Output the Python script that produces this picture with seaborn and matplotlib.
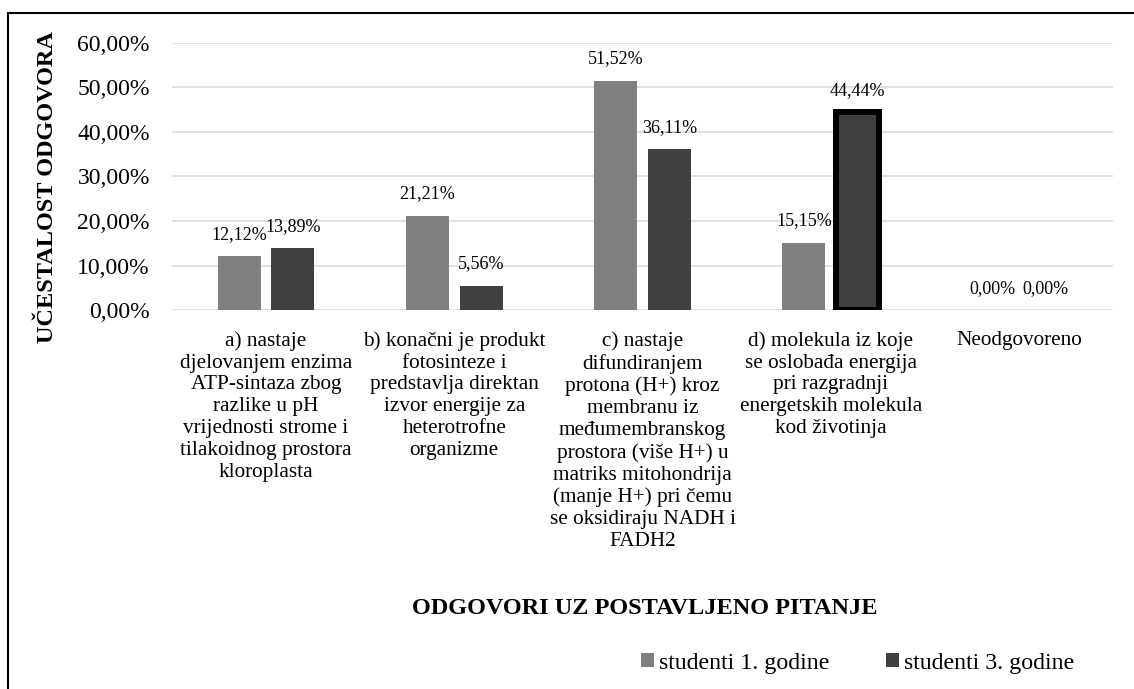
import matplotlib
matplotlib.use("Agg")
import matplotlib.pyplot as plt
import seaborn as sns
import pandas as pd
from matplotlib.patches import Patch, Rectangle
from matplotlib.ticker import FuncFormatter

categories = ["a", "b", "c", "d", "e"]
category_labels = [
    "a) nastaje\ndjelovanjem enzima\nATP-sintaza zbog\nrazlike u pH\nvrijednosti strome i\ntilakoidnog prostora\nkloroplasta",
    "b) konačni je produkt\nfotosinteze i\npredstavlja direktan\nizvor energije za\nheterotrofne\norganizme",
    "c) nastaje\ndifundiranjem\nprotona (H+) kroz\nmembranu iz\nmeđumembranskog\nprostora (više H+) u\nmatriks mitohondrija\n(manje H+) pri čemu\nse oksidiraju NADH i\nFADH2",
    "d) molekula iz koje\nse oslobađa energija\npri razgradnji\nenergetskih molekula\nkod životinja",
    "Neodgovoreno",
]
series_names = ["studenti 1. godine", "studenti 3. godine"]
studenti_1 = [0.1212, 0.2121, 0.5152, 0.1515, 0.0]
studenti_3 = [0.1389, 0.0556, 0.3611, 0.4444, 0.0]
yticks = [0.0, 0.1, 0.2, 0.3, 0.4, 0.5, 0.6]

colors = {"studenti 1. godine": "#7f7f7f", "studenti 3. godine": "#404040"}

df = pd.DataFrame({
    "cat": categories * 2,
    "grp": [series_names[0]] * 5 + [series_names[1]] * 5,
    "val": studenti_1 + studenti_3,
})

sns.set_style("white")
plt.rcParams["font.family"] = ["Liberation Serif", "DejaVu Serif"]
plt.rcParams["text.color"] = "black"
plt.rcParams["axes.labelcolor"] = "black"
plt.rcParams["xtick.color"] = "black"
plt.rcParams["ytick.color"] = "black"

W, H = 1134, 689
fig = plt.figure(figsize=(W / 100, H / 100), dpi=100)
ax = fig.add_axes([172 / W, 1 - 310.3 / H, (1113 - 172) / W, (310.3 - 42.7) / H])

sns.barplot(data=df, x="cat", y="val", hue="grp", palette=colors,
            width=0.57, gap=0.2, ax=ax, legend=False, saturation=1,
            linewidth=0)

ax.set_ylim(0, 0.6)
ax.set_xlim(-0.5, 4.5)
ax.set_yticks(yticks)
ax.yaxis.set_major_formatter(FuncFormatter(lambda v, p: f"{v*100:.2f}%".replace(".", ",")))
ax.grid(axis="y", color="#d9d9d9", linewidth=1.1)
ax.set_axisbelow(True)
for s in ax.spines.values():
    s.set_visible(False)
ax.tick_params(axis="y", length=0, pad=16, labelsize=17, labelcolor="black")
ax.set_xticks(range(5))
ax.set_xticklabels(category_labels, fontsize=15.3, linespacing=1.2, va="top",
                   color="black")
ax.tick_params(axis="x", length=0, pad=15, labelcolor="black")
ax.set_xlabel("")
ax.set_ylabel("")

# highlight bar (studenti 3. godine, d)
hl = ax.containers[1][3]
hl.set_edgecolor("black")
hl.set_linewidth(4.3)

for cont, vals in zip(ax.containers, [studenti_1, studenti_3]):
    ax.bar_label(cont, labels=[f"{v*100:.2f}%".replace(".", ",") for v in vals],
                 padding=9.5, fontsize=13, color="black")

fig.text(48 / W, 1 - 187 / H, "UČESTALOST ODGOVORA", rotation=90, ha="center",
         va="center", fontsize=17.5, fontweight="bold", color="black")
fig.text(645 / W, 1 - 608 / H, "ODGOVORI UZ POSTAVLJENO PITANJE", ha="center",
         va="center", fontsize=17.5, fontweight="bold", color="black")

handles = [Patch(facecolor=colors[n], edgecolor="none", label=n) for n in series_names]
leg = fig.legend(handles=handles, loc="center", bbox_to_anchor=(857.5 / W, 1 - 663 / H),
                 ncol=2, frameon=False, fontsize=17.2, handlelength=0.55, handleheight=0.55,
                 handletextpad=0.2, columnspacing=2.4, borderpad=0, borderaxespad=0)
for t in leg.get_texts():
    t.set_color("black")

fig.patches.append(Rectangle((8 / W, -0.05), 1.1, 1 - 13 / H + 0.05,
                             transform=fig.transFigure, fill=False,
                             edgecolor="black", linewidth=1.5))

fig.savefig("out.png", dpi=100, facecolor="white")
